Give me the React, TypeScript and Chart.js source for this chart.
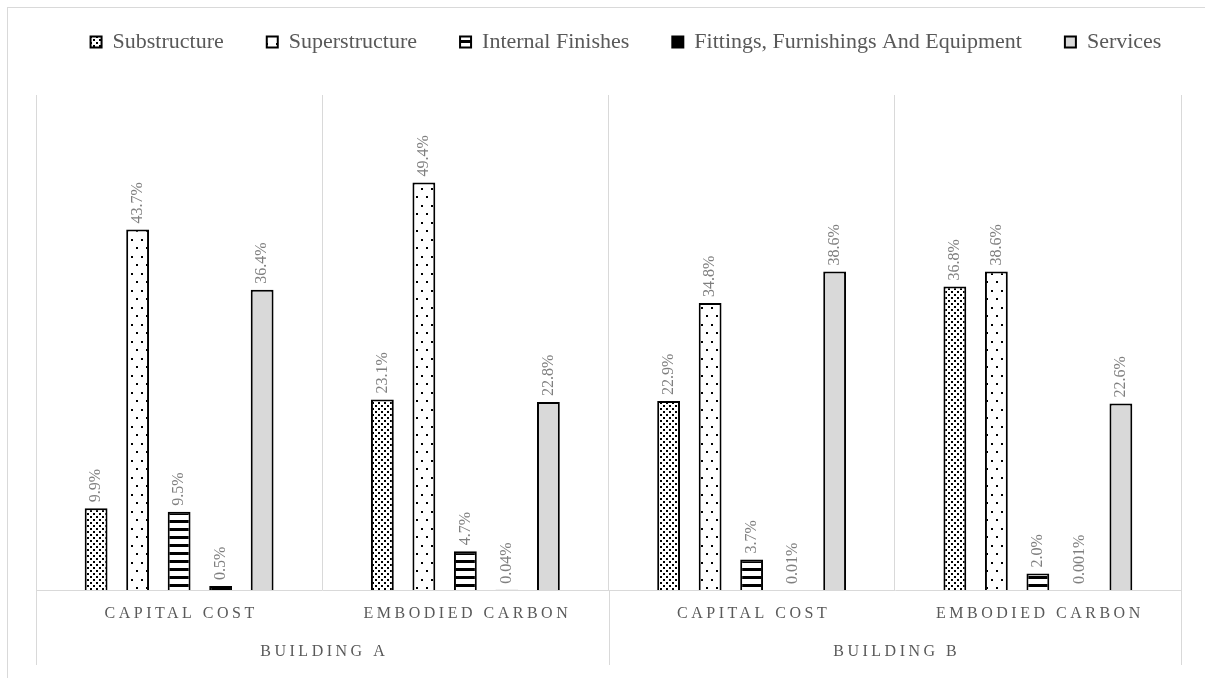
import React, { useEffect, useRef } from 'react';
import Chart from 'chart.js/auto';

const categories = ['CAPITAL COST', 'EMBODIED CARBON', 'CAPITAL COST', 'EMBODIED CARBON'];
const groups = ['BUILDING A', 'BUILDING B'];
const seriesNames = [
  'Substructure',
  'Superstructure',
  'Internal Finishes',
  'Fittings, Furnishings And Equipment',
  'Services',
];

const substructure = [9.9, 23.1, 22.9, 36.8];
const superstructure = [43.7, 49.4, 34.8, 38.6];
const internalFinishes = [9.5, 4.7, 3.7, 2.0];
const fittings = [0.5, 0.04, 0.01, 0.001];
const services = [36.4, 22.8, 38.6, 22.6];

const substructureLabels = ['9.9%', '23.1%', '22.9%', '36.8%'];
const superstructureLabels = ['43.7%', '49.4%', '34.8%', '38.6%'];
const internalFinishesLabels = ['9.5%', '4.7%', '3.7%', '2.0%'];
const fittingsLabels = ['0.5%', '0.04%', '0.01%', '0.001%'];
const servicesLabels = ['36.4%', '22.8%', '38.6%', '22.6%'];

const SERIF = '"Liberation Serif", "Times New Roman", serif';

// small tiles used as bar fills
function makePattern(kind: string): CanvasPattern | string {
  const c = document.createElement('canvas');
  const ctx = c.getContext('2d')!;
  if (kind === 'dense') {
    c.width = 6;
    c.height = 6;
    ctx.fillStyle = '#fff';
    ctx.fillRect(0, 0, 6, 6);
    ctx.fillStyle = '#000';
    ctx.fillRect(0, 0, 2, 2);
    ctx.fillRect(3, 3, 2, 2);
  } else if (kind === 'sparse') {
    c.width = 10;
    c.height = 17;
    ctx.fillStyle = '#fff';
    ctx.fillRect(0, 0, 10, 17);
    ctx.fillStyle = '#000';
    ctx.fillRect(1, 1, 2, 2);
    ctx.fillRect(6, 9, 2, 2);
  } else {
    c.width = 8;
    c.height = 8;
    ctx.fillStyle = '#fff';
    ctx.fillRect(0, 0, 8, 8);
    ctx.fillStyle = '#000';
    ctx.fillRect(0, 0, 8, 3);
  }
  return ctx.createPattern(c, 'repeat') || '#fff';
}

const App: React.FC = () => {
  const canvasRef = useRef<HTMLCanvasElement>(null);
  const chartRef = useRef<Chart | null>(null);

  useEffect(() => {
    if (!canvasRef.current) return;
    if (chartRef.current) chartRef.current.destroy();

    const labelSets = [
      substructureLabels,
      superstructureLabels,
      internalFinishesLabels,
      fittingsLabels,
      servicesLabels,
    ];

    const barLabels = {
      id: 'barLabels',
      afterDatasetsDraw(chart: any) {
        const ctx = chart.ctx;
        ctx.save();
        ctx.font = `16px ${SERIF}`;
        ctx.fillStyle = '#7f7f7f';
        ctx.textAlign = 'left';
        ctx.textBaseline = 'middle';
        chart.data.datasets.forEach((_ds: any, di: number) => {
          const meta = chart.getDatasetMeta(di);
          meta.data.forEach((el: any, i: number) => {
            ctx.save();
            ctx.translate(el.x, el.y - 6);
            ctx.rotate(-Math.PI / 2);
            ctx.fillText(labelSets[di][i], 0, 0);
            ctx.restore();
          });
        });
        ctx.restore();
      },
    };

    const groupAxis = {
      id: 'groupAxis',
      afterDraw(chart: any) {
        const ctx = chart.ctx;
        const x = chart.scales.x;
        const bottom = chart.chartArea.bottom;
        const cat = (x.right - x.left) / categories.length;
        ctx.save();
        // separators under the axis
        ctx.strokeStyle = '#d9d9d9';
        ctx.lineWidth = 1;
        [0, 2, 4].forEach((k) => {
          const px = Math.round(x.left + k * cat) + 0.5;
          ctx.beginPath();
          ctx.moveTo(px, bottom);
          ctx.lineTo(px, bottom + 75);
          ctx.stroke();
        });
        ctx.fillStyle = '#595959';
        ctx.font = `16px ${SERIF}`;
        ctx.textAlign = 'center';
        ctx.textBaseline = 'middle';
        (ctx as any).letterSpacing = '3.5px';
        categories.forEach((c, i) => {
          ctx.fillText(c, x.getPixelForValue(i) + 2, bottom + 24);
        });
        groups.forEach((g, i) => {
          ctx.fillText(g, x.left + (2 * i + 1) * cat + 2, bottom + 62);
        });
        ctx.restore();
      },
    };

    const common = { borderColor: '#000', borderWidth: 2, categoryPercentage: 0.725, barPercentage: 0.55 };

    chartRef.current = new Chart(canvasRef.current, {
      type: 'bar',
      data: {
        labels: categories,
        datasets: [
          { label: seriesNames[0], data: substructure, backgroundColor: makePattern('dense'), ...common },
          { label: seriesNames[1], data: superstructure, backgroundColor: makePattern('sparse'), ...common },
          { label: seriesNames[2], data: internalFinishes, backgroundColor: makePattern('stripes'), ...common },
          { label: seriesNames[3], data: fittings, backgroundColor: '#000', ...common },
          { label: seriesNames[4], data: services, backgroundColor: '#d9d9d9', ...common },
        ],
      },
      options: {
        responsive: true,
        maintainAspectRatio: false,
        animation: false,
        events: [],
        layout: { padding: { left: 36, right: 44, top: -12, bottom: 0 } },
        scales: {
          x: {
            grid: { offset: true, color: '#d9d9d9', lineWidth: 1, drawTicks: false },
            border: { color: '#d9d9d9', width: 1 },
            ticks: { display: false },
            afterFit: (s: any) => {
              s.height = 88;
            },
          },
          y: {
            position: 'right',
            min: 0,
            max: 60,
            grid: { display: false },
            border: { display: false },
            ticks: { display: false },
            afterFit: (s: any) => {
              s.width = 35;
            },
          },
        },
        plugins: {
          legend: {
            position: 'top',
            labels: {
              boxWidth: 11,
              boxHeight: 11,
              padding: 43,
              color: '#595959',
              font: { family: SERIF, size: 22 },
            },
          },
          subtitle: {
            display: true,
            text: '',
            position: 'top',
            weight: 500,
            font: { size: 10, lineHeight: 1 },
            padding: { top: 22, bottom: 0 },
          },
          tooltip: { enabled: false },
        },
      },
      plugins: [barLabels, groupAxis],
    });

    return () => {
      if (chartRef.current) {
        chartRef.current.destroy();
        chartRef.current = null;
      }
    };
  }, []);

  return (
    <div style={{ position: 'fixed', left: 0, top: 0, width: 1205, height: 678, overflow: 'hidden', background: '#fff' }}>
      <div
        style={{
          position: 'absolute',
          left: 7,
          top: 7,
          width: 1240,
          height: 700,
          border: '1px solid #d9d9d9',
        }}
      />
      <div style={{ position: 'absolute', left: 0, top: 0, width: 1260, height: 678 }}>
        <canvas ref={canvasRef}></canvas>
      </div>
    </div>
  );
};

export default App;
